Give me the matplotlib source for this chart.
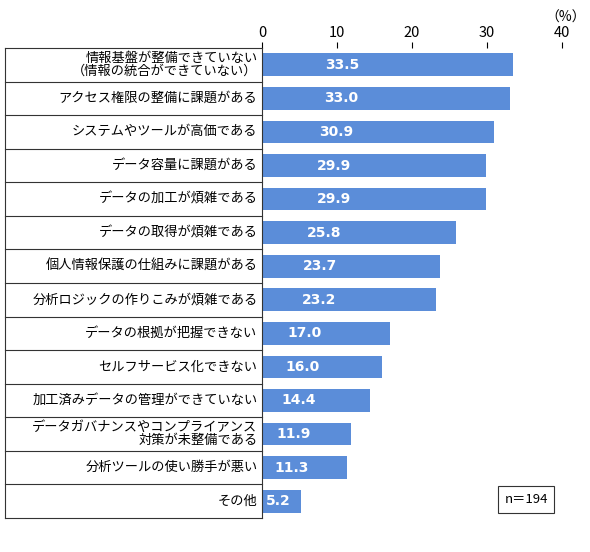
import matplotlib
matplotlib.use("Agg")
import matplotlib.pyplot as plt

plt.rcParams['font.family'] = ['Noto Sans CJK JP', 'DejaVu Sans']

labels = ["情報基盤が整備できていない\n（情報の統合ができていない）", "アクセス権限の整備に課題がある",
          "システムやツールが高価である", "データ容量に課題がある", "データの加工が煩雑である",
          "データの取得が煩雑である", "個人情報保護の仕組みに課題がある", "分析ロジックの作りこみが煩雑である",
          "データの根拠が把握できない", "セルフサービス化できない", "加工済みデータの管理ができていない",
          "データガバナンスやコンプライアンス\n対策が未整備である", "分析ツールの使い勝手が悪い", "その他"]
values = [33.5, 33.0, 30.9, 29.9, 29.9, 25.8, 23.7, 23.2, 17.0, 16.0, 14.4, 11.9, 11.3, 5.2]
ticks = [0, 10, 20, 30, 40]

W, H = 590, 552
fig = plt.figure(figsize=(W/100, H/100), dpi=100)
x0, x1, y0, y1 = 262, 562, 48, 518
ax = fig.add_axes([x0/W, 1-y1/H, (x1-x0)/W, (y1-y0)/H])
n = len(values)
ys = list(range(n))
ax.barh(ys, values, height=0.68, color='#5b8dd9')
ax.set_ylim(n-0.5, -0.5)
ax.set_xlim(0, 40)
ax.set_xticks(ticks)
ax.xaxis.tick_top()
ax.tick_params(axis='x', labelsize=10.5, length=4, pad=2)
ax.set_yticks([])
for s in ['right', 'bottom', 'top']:
    ax.spines[s].set_visible(False)
ax.spines['left'].set_color('#333333')
for y, v in zip(ys, values):
    ax.text(0.6 + v*0.3, y, f"{v:.1f}", color='white', fontweight='bold',
            fontsize=10, ha='center', va='center', family=['DejaVu Sans'])
lx = (5 - x0) / (x1 - x0) * 40
for i in range(n+1):
    ax.plot([lx, 0], [i-0.5, i-0.5], color='#333333', lw=0.8, clip_on=False)
ax.plot([lx, lx], [-0.5, n-0.5], color='#333333', lw=0.8, clip_on=False)
for y, l in zip(ys, labels):
    ax.text(-0.6, y, l, ha='right', va='center', fontsize=9.5, linespacing=1.05)
fig.text(586/W, 1-18/H, "（%）", ha='right', va='center', fontsize=10)
ax.text(35.2, 12.95, "n＝194", ha='center', va='center', fontsize=9.5,
        bbox=dict(boxstyle='square,pad=0.5', fc='white', ec='#333333', lw=0.8))
fig.savefig("out.png", dpi=100)
